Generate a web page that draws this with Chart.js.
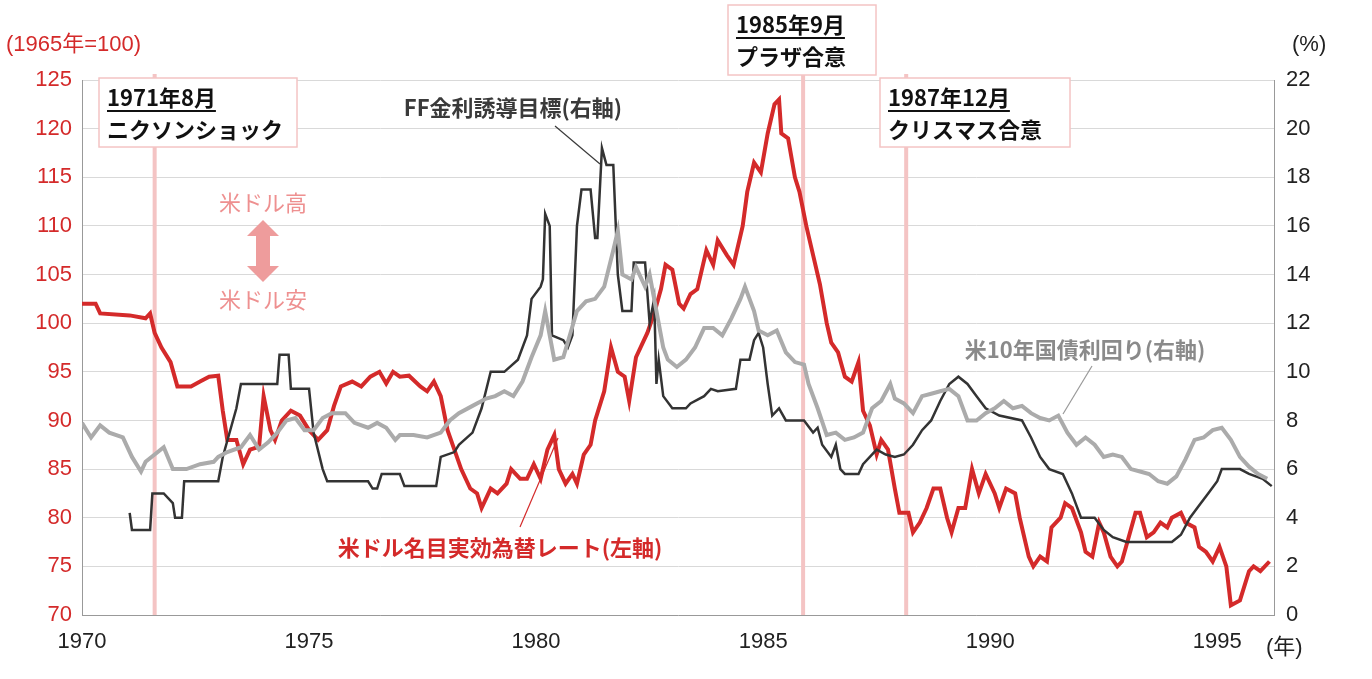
<!DOCTYPE html><html><head><meta charset="utf-8">
<script src="https://cdn.jsdelivr.net/npm/chart.js@4"></script>
<style>html,body{margin:0;padding:0;background:#fff}#w{width:1372px;height:679px}</style></head><body><div id="w"><canvas id="c"></canvas></div>
<script>
const neerYears=[1970.0,1970.3,1970.4,1971.05,1971.4,1971.5,1971.6,1971.75,1971.95,1972.1,1972.4,1972.6,1972.8,1973.0,1973.1,1973.2,1973.4,1973.55,1973.7,1973.9,1974.0,1974.15,1974.25,1974.4,1974.6,1974.8,1975.0,1975.2,1975.4,1975.55,1975.7,1975.95,1976.15,1976.35,1976.55,1976.7,1976.85,1977.0,1977.2,1977.45,1977.6,1977.75,1977.9,1978.05,1978.2,1978.35,1978.55,1978.7,1978.8,1979.0,1979.15,1979.35,1979.45,1979.65,1979.8,1979.95,1980.1,1980.25,1980.4,1980.5,1980.65,1980.8,1980.9,1981.05,1981.2,1981.3,1981.5,1981.65,1981.8,1981.95,1982.05,1982.2,1982.35,1982.45,1982.6,1982.75,1982.85,1983.0,1983.15,1983.25,1983.4,1983.55,1983.75,1983.9,1984.0,1984.2,1984.35,1984.55,1984.65,1984.8,1984.95,1985.1,1985.25,1985.35,1985.4,1985.55,1985.7,1985.8,1985.95,1986.1,1986.25,1986.4,1986.5,1986.65,1986.8,1986.95,1987.1,1987.2,1987.35,1987.5,1987.6,1987.75,1987.9,1988.0,1988.2,1988.3,1988.45,1988.6,1988.75,1988.9,1989.05,1989.15,1989.3,1989.45,1989.6,1989.75,1989.9,1990.1,1990.2,1990.35,1990.55,1990.65,1990.85,1990.95,1991.1,1991.25,1991.35,1991.55,1991.65,1991.8,1992.0,1992.1,1992.25,1992.4,1992.5,1992.65,1992.8,1992.9,1993.05,1993.2,1993.3,1993.45,1993.6,1993.75,1993.9,1994.0,1994.2,1994.3,1994.5,1994.6,1994.75,1994.9,1995.05,1995.2,1995.3,1995.5,1995.7,1995.8,1995.95,1996.15];
const neerValues=[102,102,101,100.8,100.5,101,99,97.5,96,93.5,93.5,94,94.5,94.6,91,88,88,85.5,87,87.3,92.5,89,88,90,91,90.5,89,88,89,91.5,93.5,94,93.5,94.5,95,93.8,95,94.5,94.6,93.5,93,94,92.5,89,87,85,83,82.5,81,83,82.5,83.5,85,84,84,85.5,84,87,88.5,85,83.5,84.5,83.5,86.5,87.5,90,93,97.5,95,94.5,92,96.5,98,99,101,103.5,106,105.5,102,101.5,103,103.5,107.5,106,108.5,107,106,110,113.5,116.5,115.5,119.5,122.5,123,119.5,119,115,113.5,110,107,104,100,98,97,94.5,94,96,91,89.5,86.5,88,87,83,80.5,80.5,78.5,79.5,81,83,83,80,78.5,81,81,85,82.5,84.5,82.5,81,83,82.5,80,76,75,76,75.5,79,80,81.5,81,78.5,76.5,76,79.5,78.5,76,75,75.5,78,80.5,80.5,78,78.5,79.5,79,80,80.5,79.5,79,77,76.5,75.5,77,75,71,71.5,74.5,75,74.5,75.5];
const ffYears=[1971.05,1971.1,1971.5,1971.55,1971.8,1972.0,1972.05,1972.2,1972.25,1973.0,1973.1,1973.4,1973.5,1974.3,1974.35,1974.55,1974.6,1975.0,1975.1,1975.3,1975.4,1976.0,1976.3,1976.4,1976.5,1976.6,1977.0,1977.1,1977.8,1977.9,1978.2,1978.3,1978.6,1978.8,1979.0,1979.3,1979.6,1979.8,1979.9,1980.1,1980.15,1980.2,1980.3,1980.35,1980.6,1980.7,1980.8,1980.9,1981.0,1981.2,1981.3,1981.35,1981.45,1981.55,1981.7,1981.8,1981.9,1982.1,1982.15,1982.4,1982.5,1982.6,1982.65,1982.7,1982.8,1983.0,1983.3,1983.4,1983.7,1983.85,1984.0,1984.4,1984.5,1984.7,1984.8,1984.9,1985.0,1985.1,1985.2,1985.35,1985.5,1985.9,1986.1,1986.2,1986.3,1986.5,1986.6,1986.7,1986.8,1987.1,1987.2,1987.35,1987.5,1987.7,1987.9,1988.1,1988.3,1988.5,1988.7,1988.9,1989.1,1989.3,1989.5,1989.7,1989.9,1990.2,1990.7,1990.9,1991.1,1991.3,1991.6,1991.8,1992.0,1992.3,1992.5,1992.7,1993.0,1994.0,1994.2,1994.4,1994.6,1994.8,1995.0,1995.1,1995.5,1995.7,1996.0,1996.2];
const ffValues=[4.2,3.5,3.5,5,5,4.6,4,4,5.5,5.5,6.5,8.5,9.5,9.5,10.7,10.7,9.3,9.3,7.5,6,5.5,5.5,5.5,5.2,5.2,5.8,5.8,5.3,5.3,6.5,6.7,7,7.5,8.5,10,10,10.5,11.5,13,13.5,13.8,16.5,16,11.5,11.3,11,11.5,16,17.5,17.5,15.5,15.5,19.2,18.5,18.5,14,12.5,12.5,14.5,14.5,12,13,9.5,10.5,9,8.5,8.5,8.7,9,9.3,9.2,9.3,10.5,10.5,11.3,11.6,11,9.5,8.2,8.5,8,8,7.5,7.7,7,6.5,7,6,5.8,5.8,6.2,6.5,6.8,6.6,6.5,6.6,7,7.6,8,8.8,9.5,9.8,9.5,9,8.5,8.2,8,7.3,6.5,6,5.8,5,4,4,3.5,3.2,3,3,3.3,4,4.5,5,5.5,6,6,5.8,5.6,5.3];
const tnYears=[1970.0,1970.2,1970.4,1970.6,1970.9,1971.1,1971.3,1971.4,1971.6,1971.8,1972.0,1972.3,1972.6,1972.9,1973.0,1973.2,1973.5,1973.7,1973.9,1974.1,1974.3,1974.5,1974.7,1974.9,1975.1,1975.3,1975.5,1975.8,1976.0,1976.3,1976.5,1976.7,1976.9,1977.0,1977.3,1977.6,1977.9,1978.1,1978.3,1978.6,1978.9,1979.1,1979.3,1979.5,1979.7,1979.9,1980.1,1980.2,1980.4,1980.6,1980.9,1981.1,1981.3,1981.5,1981.7,1981.8,1981.9,1982.1,1982.2,1982.4,1982.5,1982.6,1982.8,1982.9,1983.1,1983.3,1983.5,1983.7,1983.9,1984.1,1984.3,1984.5,1984.6,1984.8,1984.9,1985.1,1985.3,1985.5,1985.7,1985.9,1986.0,1986.2,1986.4,1986.6,1986.8,1987.0,1987.2,1987.4,1987.6,1987.8,1987.9,1988.1,1988.3,1988.5,1988.7,1988.9,1989.1,1989.3,1989.5,1989.7,1989.9,1990.1,1990.3,1990.5,1990.7,1990.9,1991.1,1991.3,1991.5,1991.7,1991.9,1992.1,1992.3,1992.5,1992.7,1992.9,1993.1,1993.3,1993.5,1993.7,1993.9,1994.1,1994.3,1994.5,1994.7,1994.9,1995.1,1995.3,1995.5,1995.7,1995.9,1996.1];
const tnValues=[7.9,7.3,7.8,7.5,7.3,6.5,5.9,6.3,6.6,6.9,6.0,6.0,6.2,6.3,6.5,6.7,6.9,7.4,6.8,7.1,7.5,8.0,8.1,7.6,7.6,8.1,8.3,8.3,7.9,7.7,7.9,7.7,7.2,7.4,7.4,7.3,7.5,8.0,8.3,8.6,8.9,9.0,9.2,9.0,9.6,10.6,11.5,12.5,10.5,10.6,12.5,12.9,13.0,13.5,15.0,15.8,14.0,13.8,14.3,13.5,14.0,13.0,11.0,10.5,10.2,10.5,11.0,11.8,11.8,11.5,12.2,13.0,13.5,12.5,11.7,11.5,11.7,10.8,10.4,10.3,9.5,8.5,7.4,7.5,7.2,7.3,7.5,8.5,8.8,9.5,8.9,8.7,8.3,9.0,9.1,9.2,9.3,9.0,8.0,8.0,8.3,8.5,8.8,8.5,8.6,8.3,8.1,8.0,8.2,7.5,7.0,7.3,7.0,6.5,6.6,6.5,6.0,5.9,5.8,5.5,5.4,5.7,6.4,7.2,7.3,7.6,7.7,7.2,6.5,6.1,5.8,5.6];
const eventYears=[1971.6,1985.88,1988.15];
const xTicks=[1970,1975,1980,1985,1990,1995];

const pts=(xs,ys)=>xs.map((x,i)=>({x,y:ys[i]}));
const F='"Liberation Sans","Noto Sans CJK JP",sans-serif';
const J='"Noto Sans CJK JP","Liberation Sans",sans-serif';
const RED='#d42a2a', PINK='#f4c4c4';
const deco={id:'deco',
 beforeDatasetsDraw(ch){const c=ch.ctx,x=ch.scales.x,a=ch.chartArea;c.save();c.strokeStyle=PINK;c.lineWidth=4;
  eventYears.forEach(e=>{const px=x.getPixelForValue(e);c.beginPath();c.moveTo(px,a.top-6);c.lineTo(px,a.bottom);c.stroke();});c.restore();},
 afterDraw(ch){const c=ch.ctx;c.save();
  c.font='22px '+F;c.fillStyle=RED;c.textBaseline='middle';c.textAlign='left';c.fillText('(1965年=100)',6,45);
  c.fillStyle='#222';c.fillText('(%)',1292,45);c.fillText('(年)',1266,648);
  const box=(x,y,w,h,l1,l2)=>{c.fillStyle='#fff';c.fillRect(x,y,w,h);c.strokeStyle=PINK;c.lineWidth=1.5;c.strokeRect(x,y,w,h);
   c.fillStyle='#111';c.font='bold 22px '+J;c.textAlign='left';c.fillText(l1,x+8,y+20);const tw=c.measureText(l1).width;
   c.fillRect(x+8,y+32,tw,2);c.fillText(l2,x+8,y+52);};
  box(99,78,198,69,'1971年8月','ニクソンショック');
  box(728,5,148,70,'1985年9月','プラザ合意');
  box(880,78,190,69,'1987年12月','クリスマス合意');
  c.font='bold 22px '+J;c.textAlign='center';
  c.fillStyle='#3a3a3a';c.fillText('FF金利誘導目標(右軸)',513,108);
  c.strokeStyle='#3a3a3a';c.lineWidth=1.2;c.beginPath();c.moveTo(555,126);c.lineTo(600,164);c.stroke();
  c.fillStyle='#8a8a8a';c.fillText('米10年国債利回り(右軸)',1085,350);
  c.strokeStyle='#999';c.beginPath();c.moveTo(1092,366);c.lineTo(1063,414);c.stroke();
  c.fillStyle=RED;c.fillText('米ドル名目実効為替レート(左軸)',500,548);
  c.strokeStyle=RED;c.beginPath();c.moveTo(520,527);c.lineTo(558,438);c.stroke();
  c.font='22px '+J;c.fillStyle='#ee9090';c.fillText('米ドル高',263,203);c.fillText('米ドル安',263,300);
  c.fillStyle='#ee9c9c';c.beginPath();const ax=263;
  c.moveTo(ax,220);c.lineTo(ax+16,236);c.lineTo(ax+7,236);c.lineTo(ax+7,266);c.lineTo(ax+16,266);c.lineTo(ax,282);
  c.lineTo(ax-16,266);c.lineTo(ax-7,266);c.lineTo(ax-7,236);c.lineTo(ax-16,236);c.closePath();c.fill();
  c.restore();}};
new Chart(document.getElementById('c'),{type:'line',
 data:{datasets:[
  {data:pts(tnYears,tnValues),yAxisID:'y1',borderColor:'#ababab',borderWidth:4,pointRadius:0,tension:0},
  {data:pts(ffYears,ffValues),yAxisID:'y1',borderColor:'#333',borderWidth:2.5,pointRadius:0,tension:0},
  {data:pts(neerYears,neerValues),yAxisID:'y',borderColor:RED,borderWidth:4,pointRadius:0,tension:0}]},
 options:{responsive:true,maintainAspectRatio:false,animation:false,
  layout:{padding:{top:80,left:0,right:0,bottom:0}},
  plugins:{legend:{display:false},tooltip:{enabled:false}},
  scales:{
   x:{type:'linear',min:1970,max:1996.25,afterBuildTicks:s=>{s.ticks=xTicks.map(v=>({value:v}));},
    grid:{display:false,drawTicks:false},border:{color:'#999'},
    ticks:{font:{size:22,family:F},color:'#222',padding:14,maxRotation:0,callback:v=>String(v)},afterFit:s=>{s.height=64;}},
   y:{position:'left',min:70,max:125,ticks:{stepSize:5,font:{size:22,family:F},color:RED,padding:10},
    grid:{color:'#d9d9d9',drawTicks:false},border:{color:'#999'},afterFit:s=>{s.width=82;}},
   y1:{position:'right',min:0,max:22,ticks:{stepSize:2,font:{size:22,family:F},color:'#222',padding:12},
    grid:{display:false,drawTicks:false},border:{color:'#999'},afterFit:s=>{s.width=98;}}}},
 plugins:[deco]});
</script></body></html>
